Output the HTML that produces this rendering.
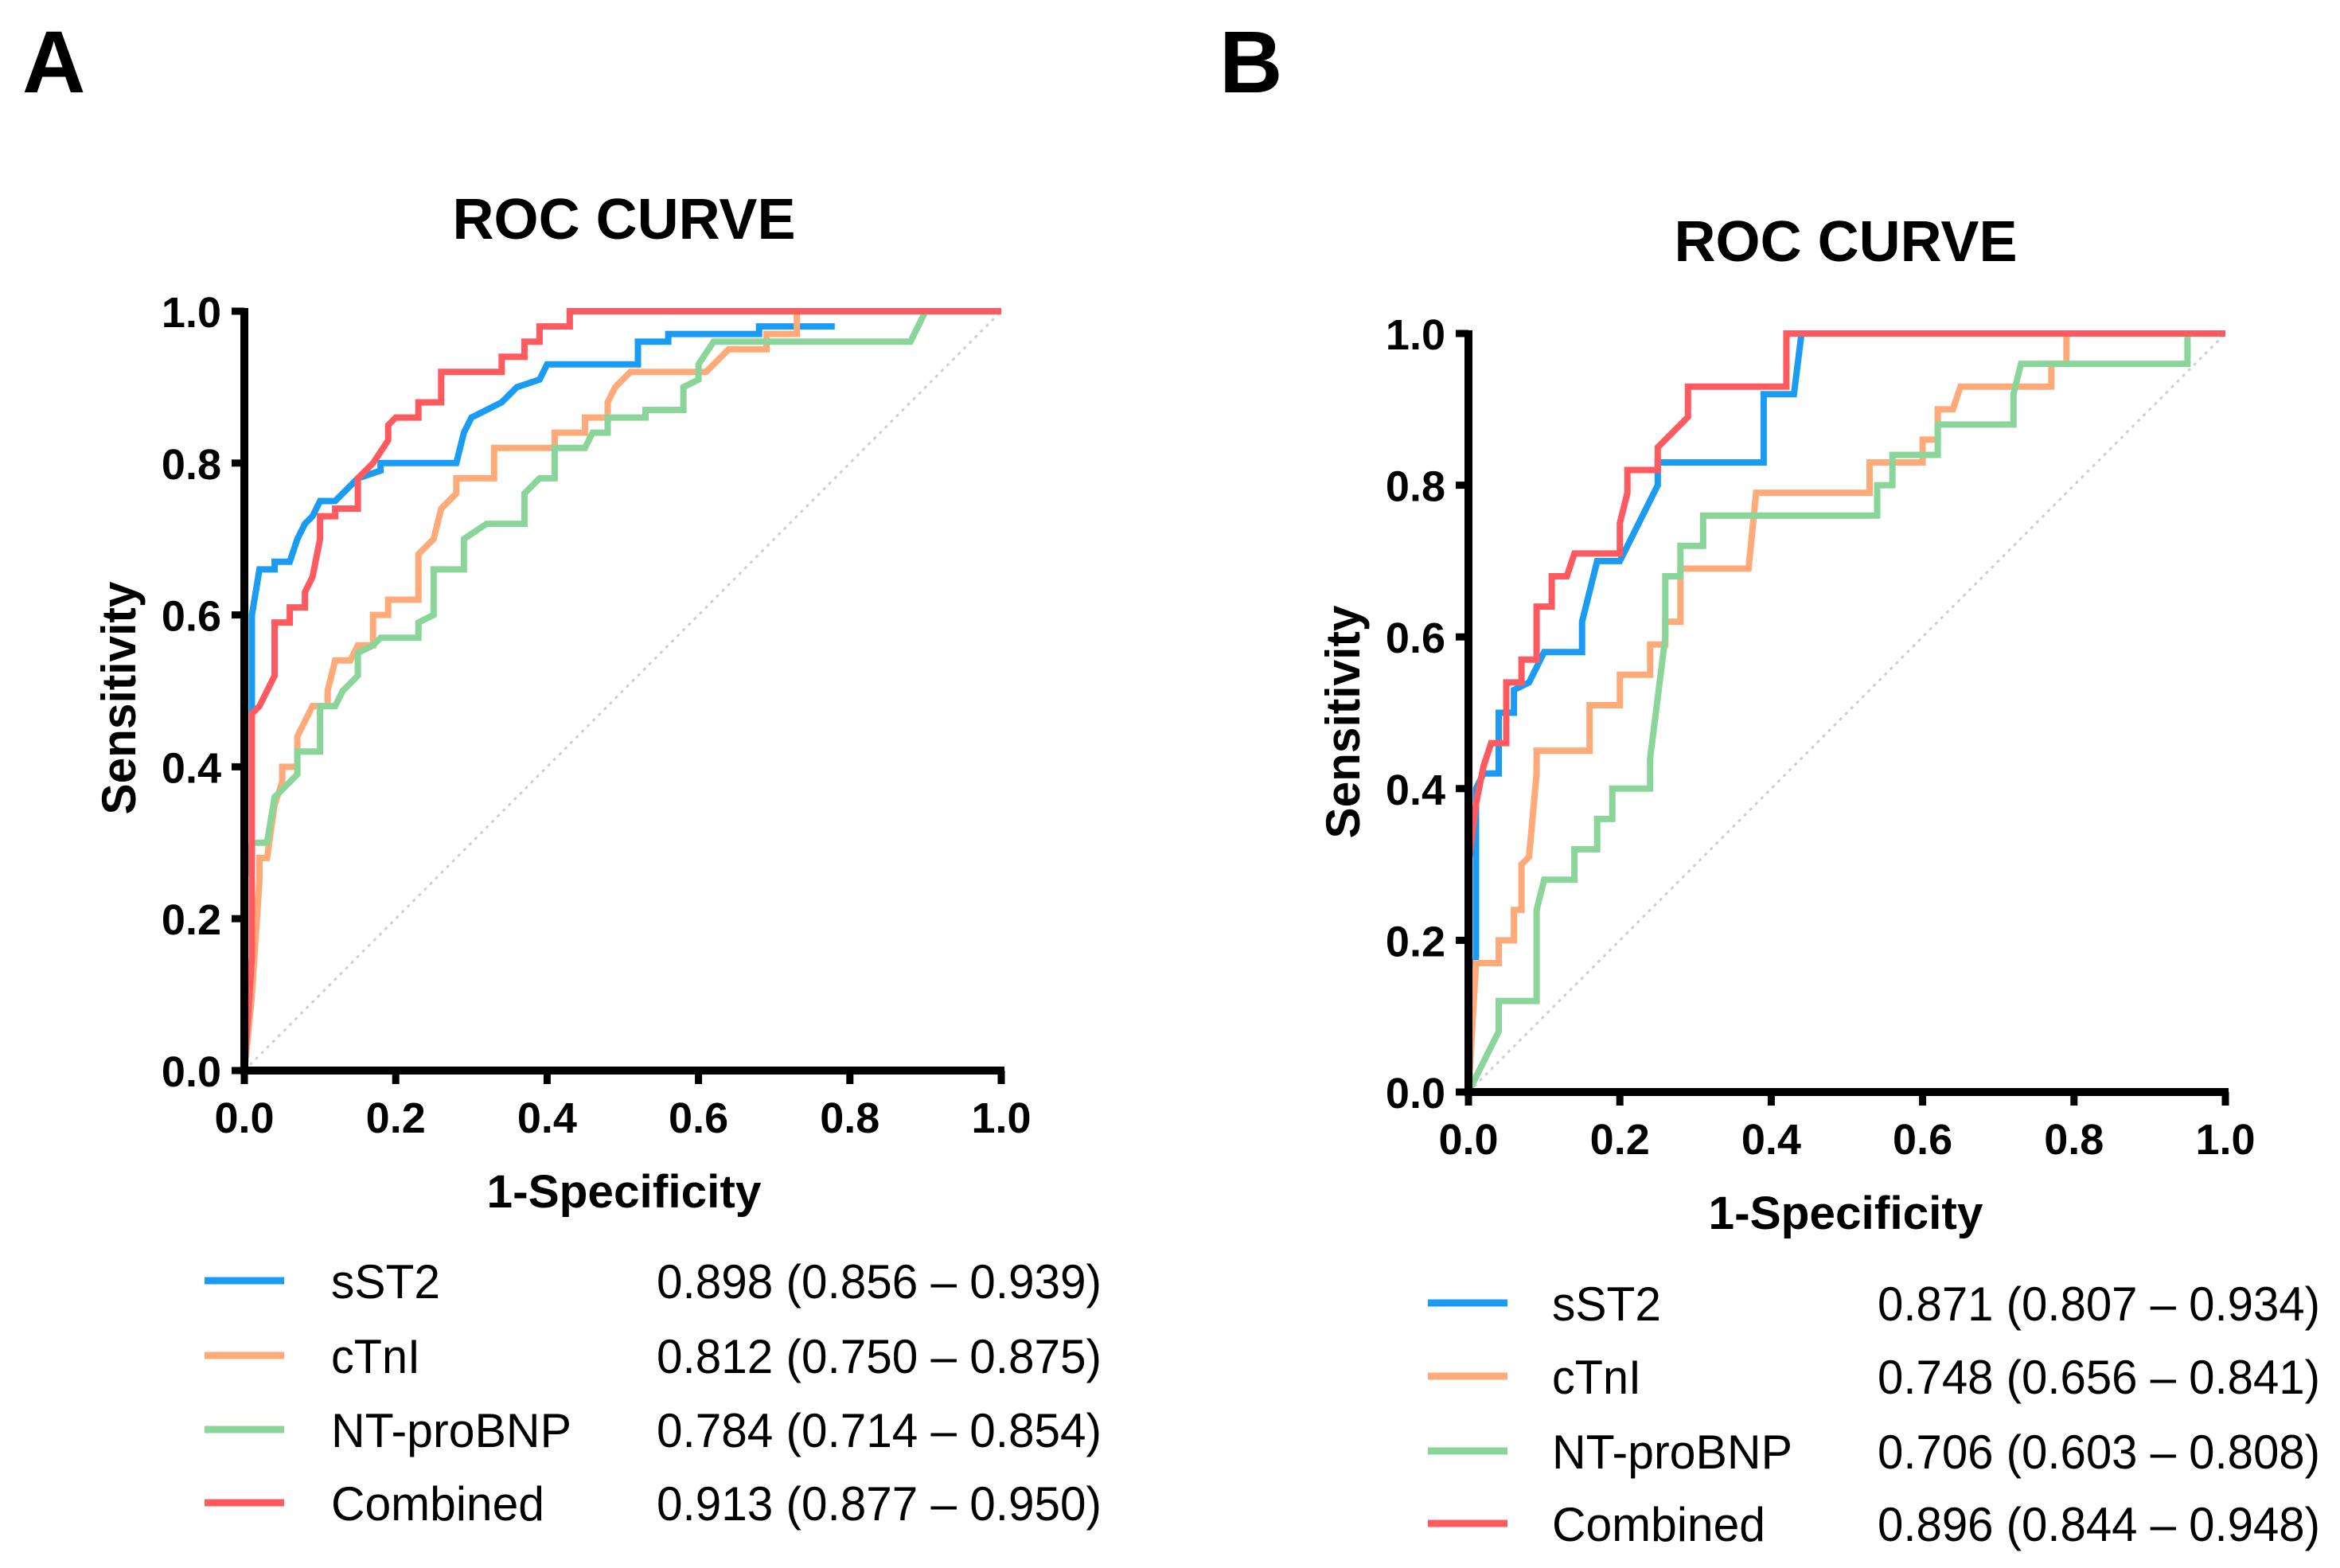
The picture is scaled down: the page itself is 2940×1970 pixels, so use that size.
<!DOCTYPE html>
<html><head><meta charset="utf-8"><style>
html,body{margin:0;padding:0;background:#fff;}
svg{display:block;font-family:"Liberation Sans",Arial,sans-serif;}
</style></head><body>
<svg id="fig" width="2940" height="1970" viewBox="0 0 2940 1970" xmlns="http://www.w3.org/2000/svg">
<text x="28" y="116" font-size="110" font-weight="bold">A</text>
<text x="1532" y="116" font-size="110" font-weight="bold">B</text>
<g id="panelA"></g>
<g id="panelB"></g>
</svg>
<script>
const ticks = [0, 0.2, 0.4, 0.6, 0.8, 1.0];
const tickLabels = ["0.0", "0.2", "0.4", "0.6", "0.8", "1.0"];
const seriesNames = ["sST2", "cTnI", "NT-proBNP", "Combined"];
const seriesColors = ["#1a9cf5", "#ffaa78", "#8ad69a", "#ff5a5f"];
const aucA = ["0.898 (0.856 – 0.939)", "0.812 (0.750 – 0.875)", "0.784 (0.714 – 0.854)", "0.913 (0.877 – 0.950)"];
const aucB = ["0.871 (0.807 – 0.934)", "0.748 (0.656 – 0.841)", "0.706 (0.603 – 0.808)", "0.896 (0.844 – 0.948)"];

const aBlueX = [0,0.01,0.01,0.02,0.04,0.04,0.06,0.07,0.08,0.09,0.1,0.12,0.15,0.18,0.18,0.28,0.29,0.3,0.32,0.34,0.36,0.39,0.4,0.52,0.52,0.56,0.56,0.68,0.68,0.78];
const aBlueY = [0,0.1,0.6,0.66,0.66,0.67,0.67,0.7,0.72,0.73,0.75,0.75,0.78,0.79,0.8,0.8,0.84,0.86,0.87,0.88,0.9,0.91,0.93,0.93,0.96,0.96,0.97,0.97,0.98,0.98];
const aOrangeX = [0,0.01,0.02,0.02,0.03,0.04,0.05,0.05,0.07,0.07,0.08,0.09,0.11,0.11,0.12,0.14,0.15,0.17,0.17,0.19,0.19,0.23,0.23,0.25,0.26,0.28,0.28,0.33,0.33,0.41,0.41,0.45,0.45,0.48,0.48,0.49,0.51,0.61,0.62,0.64,0.69,0.69,0.73,0.73,1];
const aOrangeY = [0,0.1,0.25,0.28,0.28,0.35,0.38,0.4,0.4,0.44,0.46,0.48,0.48,0.5,0.54,0.54,0.56,0.56,0.6,0.6,0.62,0.62,0.68,0.7,0.74,0.76,0.78,0.78,0.82,0.82,0.84,0.84,0.86,0.86,0.88,0.9,0.92,0.92,0.93,0.95,0.95,0.97,0.97,1,1];
const aGreenX = [0,0,0.01,0.03,0.04,0.05,0.07,0.07,0.1,0.1,0.12,0.13,0.15,0.15,0.17,0.18,0.23,0.23,0.25,0.25,0.29,0.29,0.32,0.37,0.37,0.39,0.41,0.41,0.45,0.46,0.48,0.48,0.53,0.53,0.58,0.58,0.6,0.6,0.62,0.88,0.9,1];
const aGreenY = [0,0.25,0.3,0.3,0.36,0.37,0.39,0.42,0.42,0.48,0.48,0.5,0.52,0.55,0.56,0.57,0.57,0.59,0.6,0.66,0.66,0.7,0.72,0.72,0.76,0.78,0.78,0.82,0.82,0.84,0.84,0.86,0.86,0.87,0.87,0.9,0.91,0.93,0.96,0.96,1,1];
const aRedX = [0,0.01,0.01,0.02,0.03,0.04,0.04,0.06,0.06,0.08,0.08,0.09,0.1,0.1,0.12,0.12,0.15,0.15,0.17,0.19,0.19,0.2,0.23,0.23,0.26,0.26,0.34,0.34,0.37,0.37,0.39,0.39,0.43,0.43,1];
const aRedY = [0,0.15,0.47,0.48,0.5,0.52,0.59,0.59,0.61,0.61,0.63,0.65,0.7,0.73,0.73,0.74,0.74,0.78,0.8,0.83,0.85,0.86,0.86,0.88,0.88,0.92,0.92,0.94,0.94,0.96,0.96,0.98,0.98,1,1];

const bBlueX = [0,0.01,0.01,0.02,0.04,0.04,0.06,0.06,0.08,0.1,0.15,0.15,0.16,0.17,0.2,0.25,0.25,0.39,0.39,0.43,0.44];
const bBlueY = [0,0.18,0.4,0.42,0.42,0.5,0.5,0.53,0.54,0.58,0.58,0.62,0.66,0.7,0.7,0.8,0.83,0.83,0.92,0.92,1];
const bOrangeX = [0,0.01,0.04,0.04,0.06,0.06,0.07,0.07,0.08,0.09,0.09,0.16,0.16,0.2,0.2,0.24,0.24,0.26,0.26,0.28,0.28,0.37,0.38,0.53,0.53,0.6,0.6,0.62,0.62,0.64,0.65,0.77,0.77,0.79,0.79,1];
const bOrangeY = [0,0.17,0.17,0.2,0.2,0.24,0.24,0.3,0.31,0.42,0.45,0.45,0.51,0.51,0.55,0.55,0.59,0.59,0.62,0.62,0.69,0.69,0.79,0.79,0.83,0.83,0.86,0.86,0.9,0.9,0.93,0.93,0.96,0.96,1,1];
const bGreenX = [0,0.04,0.04,0.09,0.09,0.1,0.14,0.14,0.17,0.17,0.19,0.19,0.24,0.24,0.25,0.26,0.26,0.28,0.28,0.31,0.31,0.54,0.54,0.56,0.56,0.62,0.62,0.72,0.72,0.73,0.95,0.95,1];
const bGreenY = [0,0.08,0.12,0.12,0.24,0.28,0.28,0.32,0.32,0.36,0.36,0.4,0.4,0.44,0.52,0.6,0.68,0.68,0.72,0.72,0.76,0.76,0.8,0.8,0.84,0.84,0.88,0.88,0.92,0.96,0.96,1,1];
const bRedX = [0,0,0.01,0.02,0.03,0.05,0.05,0.07,0.07,0.09,0.09,0.11,0.11,0.13,0.14,0.2,0.2,0.21,0.21,0.25,0.25,0.29,0.29,0.42,0.42,1];
const bRedY = [0,0.3,0.38,0.43,0.46,0.46,0.54,0.54,0.57,0.57,0.64,0.64,0.68,0.68,0.71,0.71,0.75,0.79,0.82,0.82,0.85,0.89,0.93,0.93,1,1];

const NS = "http://www.w3.org/2000/svg";
function mk(parent, tag, attrs, text) {
  const el = document.createElementNS(NS, tag);
  for (const k in attrs) el.setAttribute(k, attrs[k]);
  if (text !== undefined) el.textContent = text;
  parent.appendChild(el);
  return el;
}

function drawPanel(g, cfg, series, auc) {
  const sx = v => cfg.x0 + v * (cfg.x1 - cfg.x0);
  const sy = v => cfg.y0 - v * (cfg.y0 - cfg.y1);
  let t = mk(g, "text", {x: cfg.titleX, y: cfg.titleY, "font-size": 72, "font-weight": "bold", "text-anchor": "middle", textLength: 431, lengthAdjust: "spacingAndGlyphs"}, "ROC CURVE");
  
  
  // diagonal
  let d = mk(g, "line", {x1: sx(0), y1: sy(0), x2: sx(1), y2: sy(1), stroke: "#cfcfcf", "stroke-width": 3, "stroke-dasharray": "4 6"});
  
  
  // series
  series.forEach((s, i) => {
    const pts = s.x.map((xv, j) => sx(xv).toFixed(1) + "," + sy(s.y[j]).toFixed(1)).join(" ");
    const p = mk(g, "polyline", {points: pts, fill: "none", stroke: seriesColors[i], "stroke-width": 8, "stroke-linejoin": "miter"});
    
    
  });
  // axes
  const ax = mk(g, "g", {});
  
  
  mk(ax, "line", {x1: cfg.x0, y1: cfg.y1 - 4, x2: cfg.x0, y2: cfg.y0 + 5, stroke: "#000", "stroke-width": 10});
  mk(ax, "line", {x1: cfg.x0 - 5, y1: cfg.y0, x2: cfg.x1 + 4, y2: cfg.y0, stroke: "#000", "stroke-width": 10});
  ticks.forEach((tv, i) => {
    mk(ax, "line", {x1: cfg.x0 - 16, y1: sy(tv), x2: cfg.x0, y2: sy(tv), stroke: "#000", "stroke-width": 9});
    mk(ax, "line", {x1: sx(tv), y1: cfg.y0, x2: sx(tv), y2: cfg.y0 + 17, stroke: "#000", "stroke-width": 9});
    const yl = mk(g, "text", {x: cfg.x0 - 29, y: sy(tv) + 20, "font-size": 54, "font-weight": "bold", "text-anchor": "end"}, tickLabels[i]);
    
    
    const xl = mk(g, "text", {x: sx(tv), y: cfg.y0 + 78, "font-size": 54, "font-weight": "bold", "text-anchor": "middle"}, tickLabels[i]);
    
    
  });
  const yt = mk(g, "text", {x: 0, y: 0, "font-size": 60, "font-weight": "bold", "text-anchor": "middle", textLength: 293, lengthAdjust: "spacingAndGlyphs", transform: `translate(${cfg.x0 - 137},${cfg.yTitleY}) rotate(-90)`}, "Sensitivity");
  
  
  const xt = mk(g, "text", {x: cfg.titleX, y: cfg.y0 + 172, "font-size": 58, "font-weight": "bold", "text-anchor": "middle", textLength: 345, lengthAdjust: "spacingAndGlyphs"}, "1-Specificity");
  
  
  // legend
  const nameLens = [137, 112, 302, 268];
  seriesNames.forEach((n, i) => {
    const ry = cfg.legY[i];
    const le = mk(g, "g", {});
    
    
    mk(le, "line", {x1: cfg.legLineX, y1: ry, x2: cfg.legLineX + 100, y2: ry, stroke: seriesColors[i], "stroke-width": 9});
    mk(le, "text", {x: cfg.legNameX, y: ry + 22, "font-size": 60, textLength: nameLens[i], lengthAdjust: "spacingAndGlyphs"}, n);
    mk(le, "text", {x: cfg.legValX, y: ry + 22, "font-size": 60, textLength: cfg.valLen, lengthAdjust: "spacingAndGlyphs"}, auc[i]);
  });
}

drawPanel(document.getElementById("panelA"),
  {x0: 307, x1: 1258, y0: 1345, y1: 391, titleX: 784, titleY: 300, yTitleY: 877,
   legY: [1609, 1703, 1796, 1888], legLineX: 257, legNameX: 416, legValX: 825, valLen: 559},
  [{x: aBlueX, y: aBlueY}, {x: aOrangeX, y: aOrangeY}, {x: aGreenX, y: aGreenY}, {x: aRedX, y: aRedY}], aucA);
drawPanel(document.getElementById("panelB"),
  {x0: 1845, x1: 2796, y0: 1372, y1: 419, titleX: 2319, titleY: 328, yTitleY: 907,
   legY: [1637, 1729, 1823, 1914], legLineX: 1794, legNameX: 1950, legValX: 2359, valLen: 556},
  [{x: bBlueX, y: bBlueY}, {x: bOrangeX, y: bOrangeY}, {x: bGreenX, y: bGreenY}, {x: bRedX, y: bRedY}], aucB);
</script>
</body></html>
